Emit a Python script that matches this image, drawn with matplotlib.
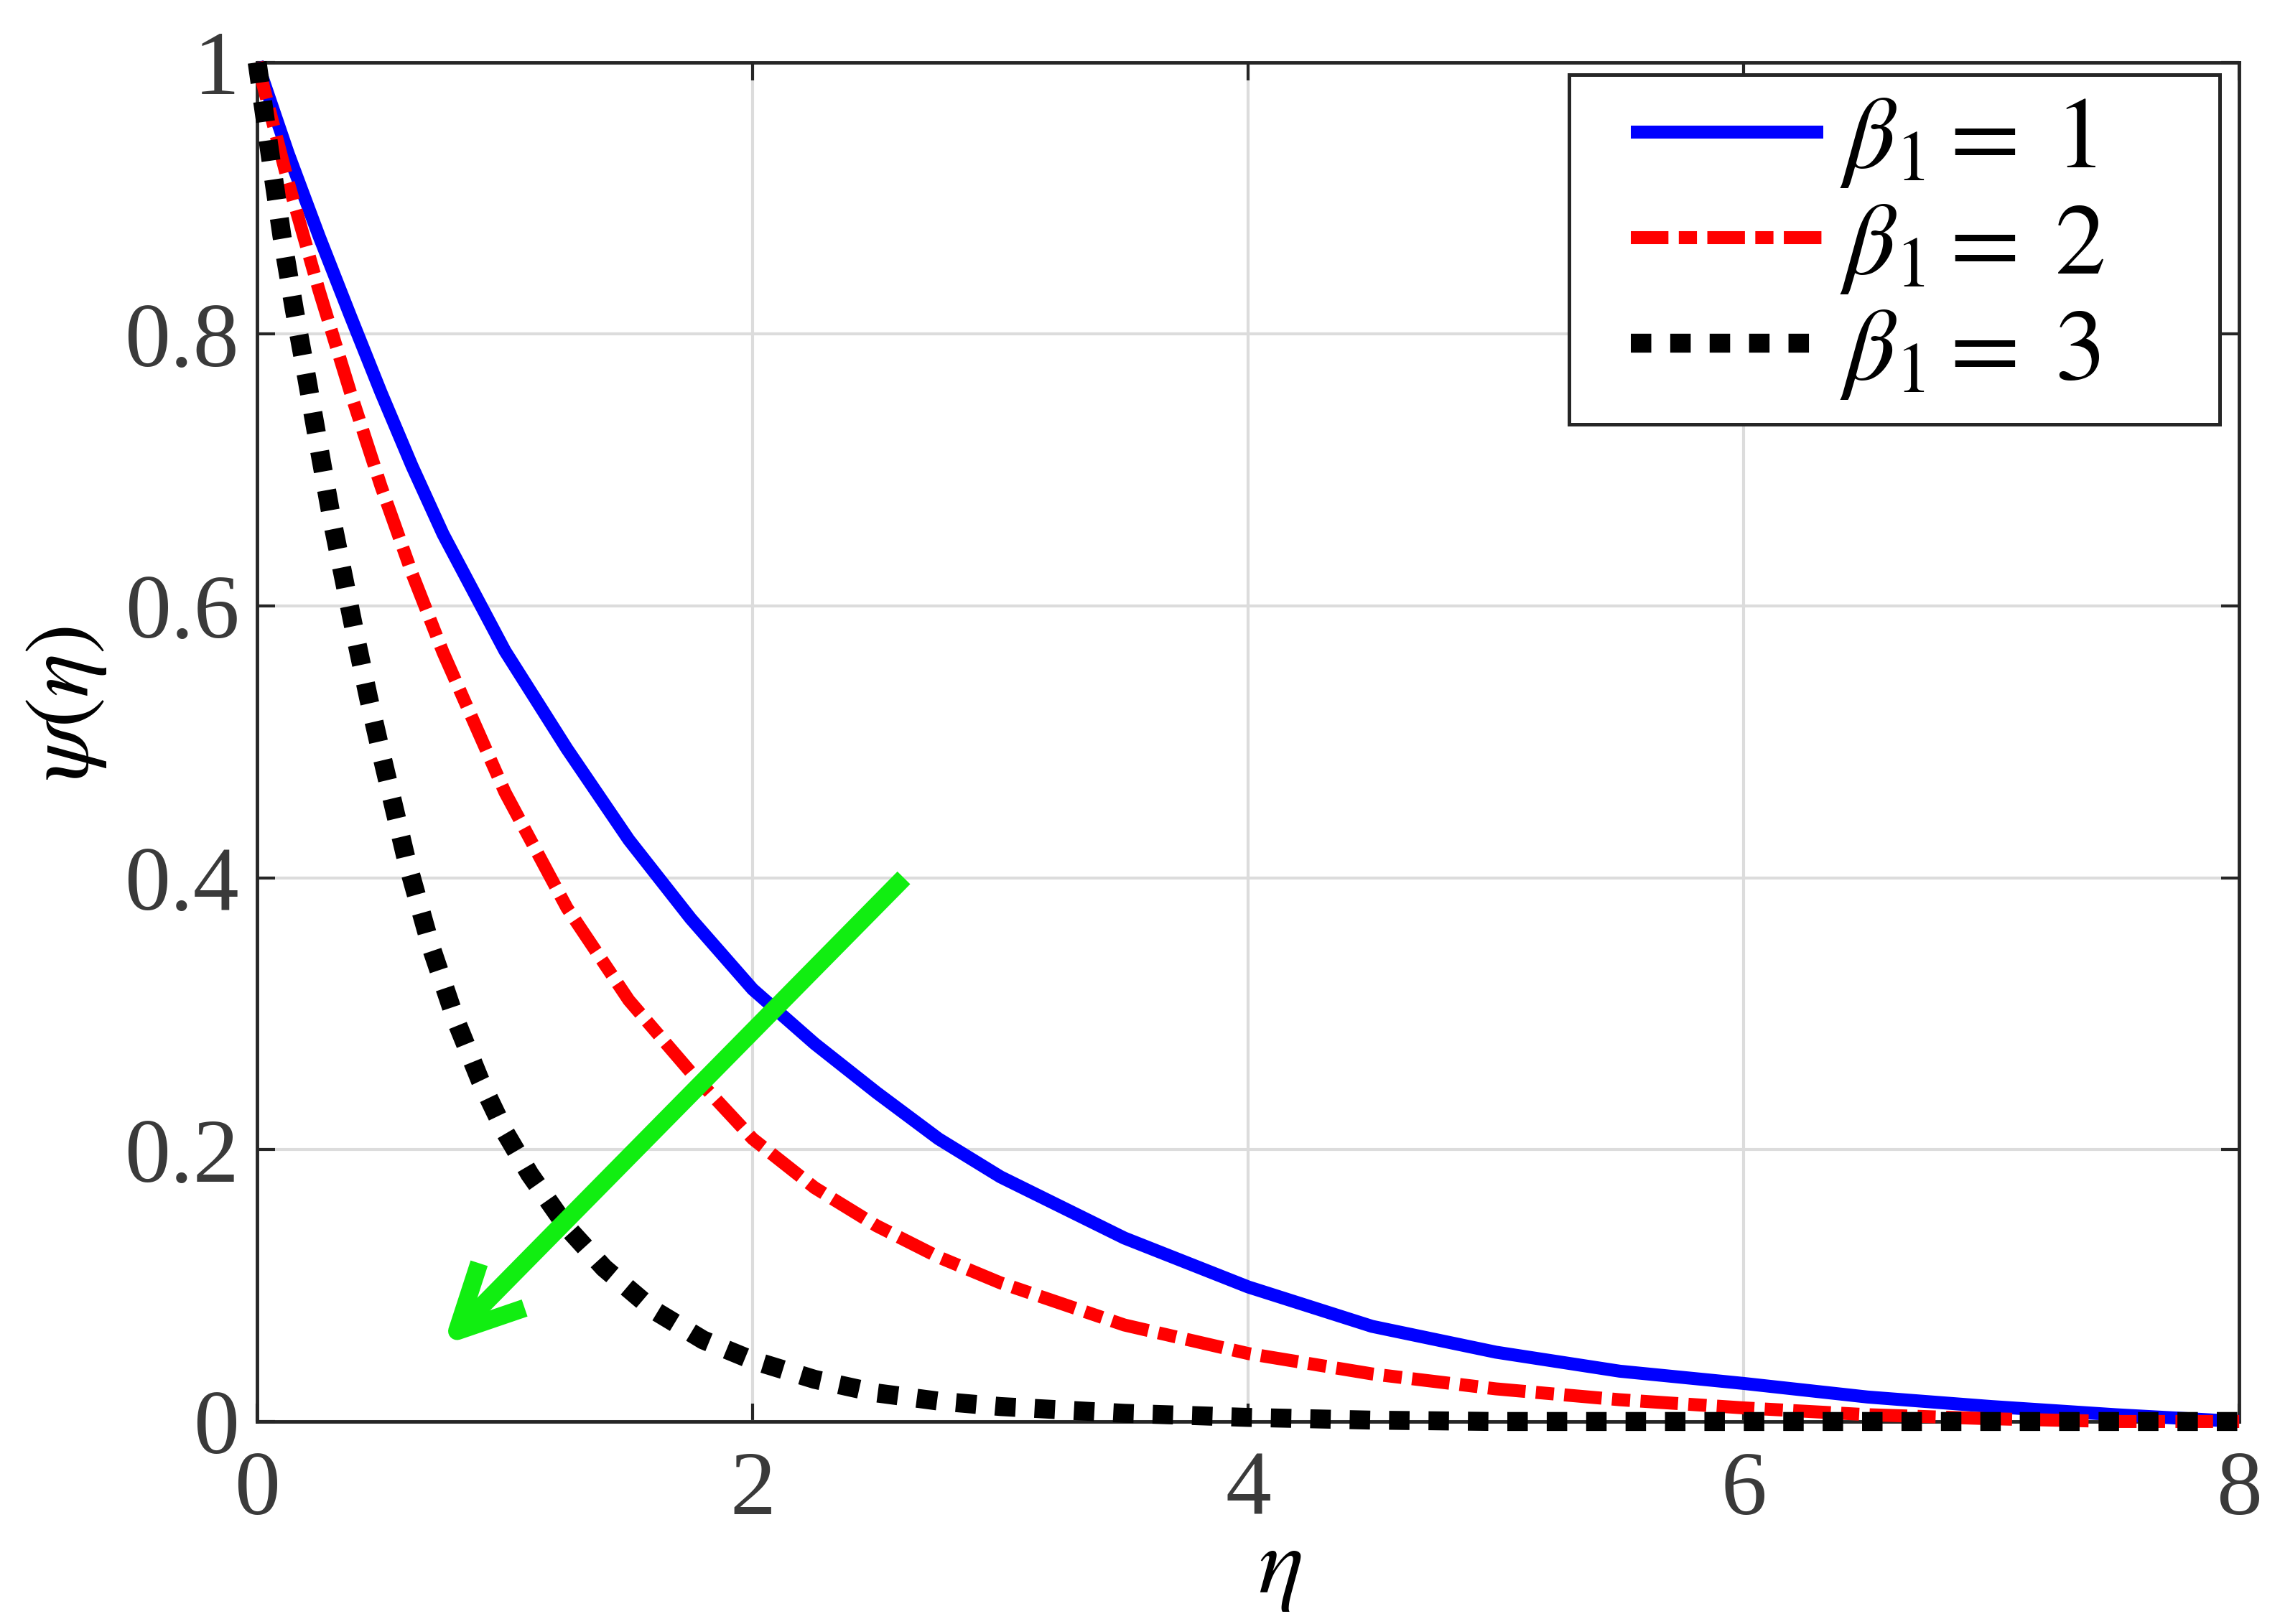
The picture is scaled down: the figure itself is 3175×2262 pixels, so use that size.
import matplotlib
matplotlib.use('Agg')
import matplotlib.pyplot as plt
from matplotlib.patches import Rectangle

# values
eta_b1 = [0.0, 0.125, 0.25, 0.375, 0.5, 0.625, 0.75, 1.0, 1.25, 1.5, 1.75, 2.0, 2.25, 2.5,
          2.75, 3.0, 3.5, 4.0, 4.5, 5.0, 5.5, 6.0, 6.5, 7.0, 7.5, 8.0]
psi_b1 = [1.0, 0.933, 0.872, 0.814, 0.757, 0.703, 0.653, 0.567, 0.495, 0.428, 0.370, 0.318, 0.278,
          0.242, 0.208, 0.180, 0.135, 0.099, 0.070, 0.051, 0.037, 0.028, 0.018, 0.011, 0.005, 0.0]

eta_b2 = [0.0, 0.125, 0.25, 0.375, 0.5, 0.625, 0.75, 1.0, 1.25, 1.5, 1.75, 2.0, 2.25, 2.5,
          2.75, 3.0, 3.5, 4.0, 4.5, 5.0, 5.5, 6.0, 6.5, 7.0, 7.5, 8.0]
psi_b2 = [1.0, 0.912, 0.832, 0.758, 0.688, 0.624, 0.566, 0.463, 0.378, 0.310, 0.257, 0.208, 0.172,
          0.144, 0.121, 0.102, 0.071, 0.050, 0.035, 0.024, 0.016, 0.010, 0.005, 0.002, 0.0, 0.0]

eta_b3 = [0.0, 0.05, 0.1, 0.15, 0.2, 0.25, 0.3, 0.35, 0.4, 0.45, 0.5, 0.6, 0.7, 0.8, 0.9,
          1.0, 1.1, 1.25, 1.4, 1.6, 1.8, 2.0, 2.25, 2.5, 2.75, 3.0, 3.5, 4.0, 4.5, 5.0,
          6.0, 7.0, 8.0]
psi_b3 = [1.0, 0.935, 0.872, 0.818, 0.768, 0.716, 0.665, 0.620, 0.575, 0.532, 0.492, 0.415, 0.350,
          0.296, 0.251, 0.213, 0.182, 0.143, 0.113, 0.082, 0.060, 0.045, 0.031, 0.021, 0.015,
          0.011, 0.006, 0.003, 0.001, 0.0, 0.0, 0.0, 0.0]

labels = [r'$\beta_1 =\;1$', r'$\beta_1 =\;2$', r'$\beta_1 =\;3$']
xticks = [0, 2, 4, 6, 8]
xticklabels = ['0', '2', '4', '6', '8']
yticks = [0, 0.2, 0.4, 0.6, 0.8, 1.0]
yticklabels = ['0', '0.2', '0.4', '0.6', '0.8', '1']

# green trend arrow (data coords)
ARROW_START = (2.61, 0.40)
ARROW_END = (0.75, 0.056)

plt.rcParams['font.family'] = ['Liberation Serif', 'DejaVu Serif']
plt.rcParams['mathtext.fontset'] = 'stix'

fig = plt.figure(figsize=(31.75, 22.62), dpi=100)
ax = fig.add_axes([0.1128, 0.1247, 0.8693, 0.8369])

ax.plot(eta_b1, psi_b1, color='#0000ff', lw=13, solid_capstyle='butt',
        label=labels[0], clip_on=False, zorder=3)
ax.plot(eta_b2, psi_b2, color='#ff0000', lw=13, dashes=(2.9, 0.8, 1.4, 0.8),
        label=labels[1], clip_on=False, zorder=3)
ax.plot(eta_b3, psi_b3, color='black', lw=19, dashes=(1.08, 1.0),
        label=labels[2], clip_on=False, zorder=3)

ax.annotate('', xy=ARROW_END, xytext=ARROW_START,
            arrowprops=dict(arrowstyle='->,head_length=64,head_width=32',
                            color='#11ee11', lw=18, mutation_scale=1,
                            shrinkA=0, shrinkB=0, capstyle='butt'), zorder=4)

ax.set_xlim(0, 8)
ax.set_ylim(0, 1)
ax.set_xticks(xticks)
ax.set_xticklabels(xticklabels)
ax.set_yticks(yticks)
ax.set_yticklabels(yticklabels)
ax.grid(True, color='#dcdcdc', lw=3)
ax.set_axisbelow(True)

ax.tick_params(direction='in', length=18, width=3, top=True, right=True,
               labelsize=92, color='#262626', labelcolor='#3a3a3a')
ax.tick_params(axis='x', pad=29)
ax.tick_params(axis='y', pad=18)
for s in ax.spines.values():
    s.set_linewidth(3.5)
    s.set_color('#262626')
    s.set_zorder(2.5)

ax.set_xlabel(r'$\eta$', fontsize=95)
ax.xaxis.set_label_coords(0.516, -0.0777)
ax.set_ylabel(r'$\psi(\eta)$', fontsize=92, va='center')
ax.yaxis.set_label_coords(-0.0964, 0.528)

# legend: frame drawn separately so the padding matches the original box
box = Rectangle((0.6620, 0.7338), 0.3282, 0.2572, transform=ax.transAxes,
                facecolor='white', edgecolor='#262626', lw=3.6,
                zorder=5, clip_on=False)
ax.add_patch(box)
leg = ax.legend(loc='upper left', bbox_to_anchor=(0.6931, 0.975),
                borderaxespad=0, borderpad=0, frameon=False, fontsize=102,
                handlelength=1.89, handletextpad=0.16, labelspacing=0.12)
leg.set_zorder(6)

fig.savefig('out.png', dpi=100, facecolor='white')
